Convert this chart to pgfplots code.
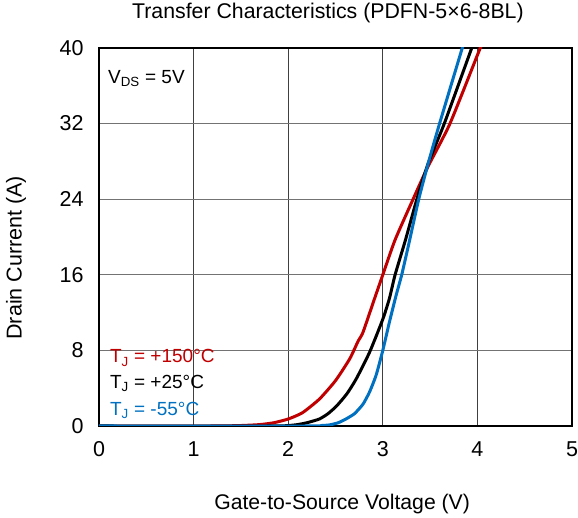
\documentclass[border=0pt]{standalone}
\usepackage{pgfplots}
\pgfplotsset{compat=1.18}
\usepackage{fontspec}
\setmainfont{Liberation Sans}
\definecolor{cred}{RGB}{192,0,0}
\definecolor{cblue}{RGB}{0,112,192}
\begin{document}
\begin{tikzpicture}[x=1pt,y=1pt]
\useasboundingbox (-99pt,-92pt) rectangle (479pt,426pt);
\begin{axis}[
  at={(0,0)}, anchor=south west,
  scale only axis, width=473pt, height=378pt,
  xmin=0, xmax=5, ymin=0, ymax=40,
  xtick={0,1,2,3,4,5}, ytick={0,8,16,24,32,40},
  major tick length=0pt,
  /pgf/number format/assume math mode=true,
  tick label style={font=\fontsize{21.5}{25}\selectfont},
  xticklabel style={yshift=-12pt},
  yticklabel style={xshift=-12pt},
  axis line style={black, line width=1.8pt},
  xmajorgrids, ymajorgrids,
  x grid style={black!75, line width=0.8pt},
  y grid style={black!55, line width=0.8pt},
  title={Transfer Characteristics (PDFN-5×6-8BL)},
  title style={font=\fontsize{21.3}{25}\selectfont, at={(axis description cs:0.484,1)}, anchor=base, yshift=23pt},
  xlabel={Gate-to-Source Voltage (V)},
  xlabel style={font=\fontsize{21.2}{25}\selectfont, at={(axis description cs:0.514,-0.222)}, anchor=base},
  ylabel={Drain Current (A)},
  ylabel style={font=\fontsize{21.5}{25}\selectfont, at={(axis description cs:-0.197,0.445)}, anchor=north, inner sep=0pt},
  clip=true,
]
\addplot[cred, line width=3pt, smooth, tension=0.35] coordinates {
(0,0) (1.2,0) (1.5,0.05) (1.7,0.15) (1.85,0.35) (2.0,0.74) (2.15,1.4) (2.33,2.85) (2.5,4.8) (2.65,7.1) (2.74,9.0) (2.79,9.9) (2.91,13.4) (3.0,16.0) (3.13,19.7) (3.32,24) (3.48,27.5) (3.71,32) (4.03,40) (4.1,41.6)
};
\addplot[black, line width=3pt, smooth, tension=0.35] coordinates {
(0,0) (1.8,0) (2.0,0.05) (2.1,0.15) (2.2,0.35) (2.33,0.74) (2.42,1.3) (2.51,2.1) (2.62,3.4) (2.72,5.0) (2.86,7.8) (3.0,11.3) (3.07,13.5) (3.13,16) (3.24,19.7) (3.36,24) (3.48,27.8) (3.65,32) (3.94,40) (4.0,41.6)
};
\addplot[cblue, line width=3pt, smooth, tension=0.35] coordinates {
(0,0) (2.2,0) (2.35,0.05) (2.44,0.12) (2.53,0.35) (2.61,0.74) (2.7,1.3) (2.79,2.3) (2.86,3.6) (2.93,5.4) (3.0,8.0) (3.07,11.0) (3.14,13.8) (3.2,16) (3.28,19.5) (3.38,24) (3.48,27.8) (3.60,32) (3.84,40) (3.9,42)
};
\node[anchor=base west, inner sep=0pt, font=\fontsize{19}{22}\selectfont] at (rel axis cs:0.019,0.907) {V\textsubscript{DS} = 5V};
\node[anchor=base west, inner sep=0pt, font=\fontsize{19}{22}\selectfont, text=cred] at (rel axis cs:0.023,0.167) {T\textsubscript{J} = +150°C};
\node[anchor=base west, inner sep=0pt, font=\fontsize{19}{22}\selectfont, text=black] at (rel axis cs:0.023,0.1005) {T\textsubscript{J} = +25°C};
\node[anchor=base west, inner sep=0pt, font=\fontsize{19}{22}\selectfont, text=cblue] at (rel axis cs:0.023,0.029) {T\textsubscript{J} = -55°C};
\end{axis}
\end{tikzpicture}
\end{document}
